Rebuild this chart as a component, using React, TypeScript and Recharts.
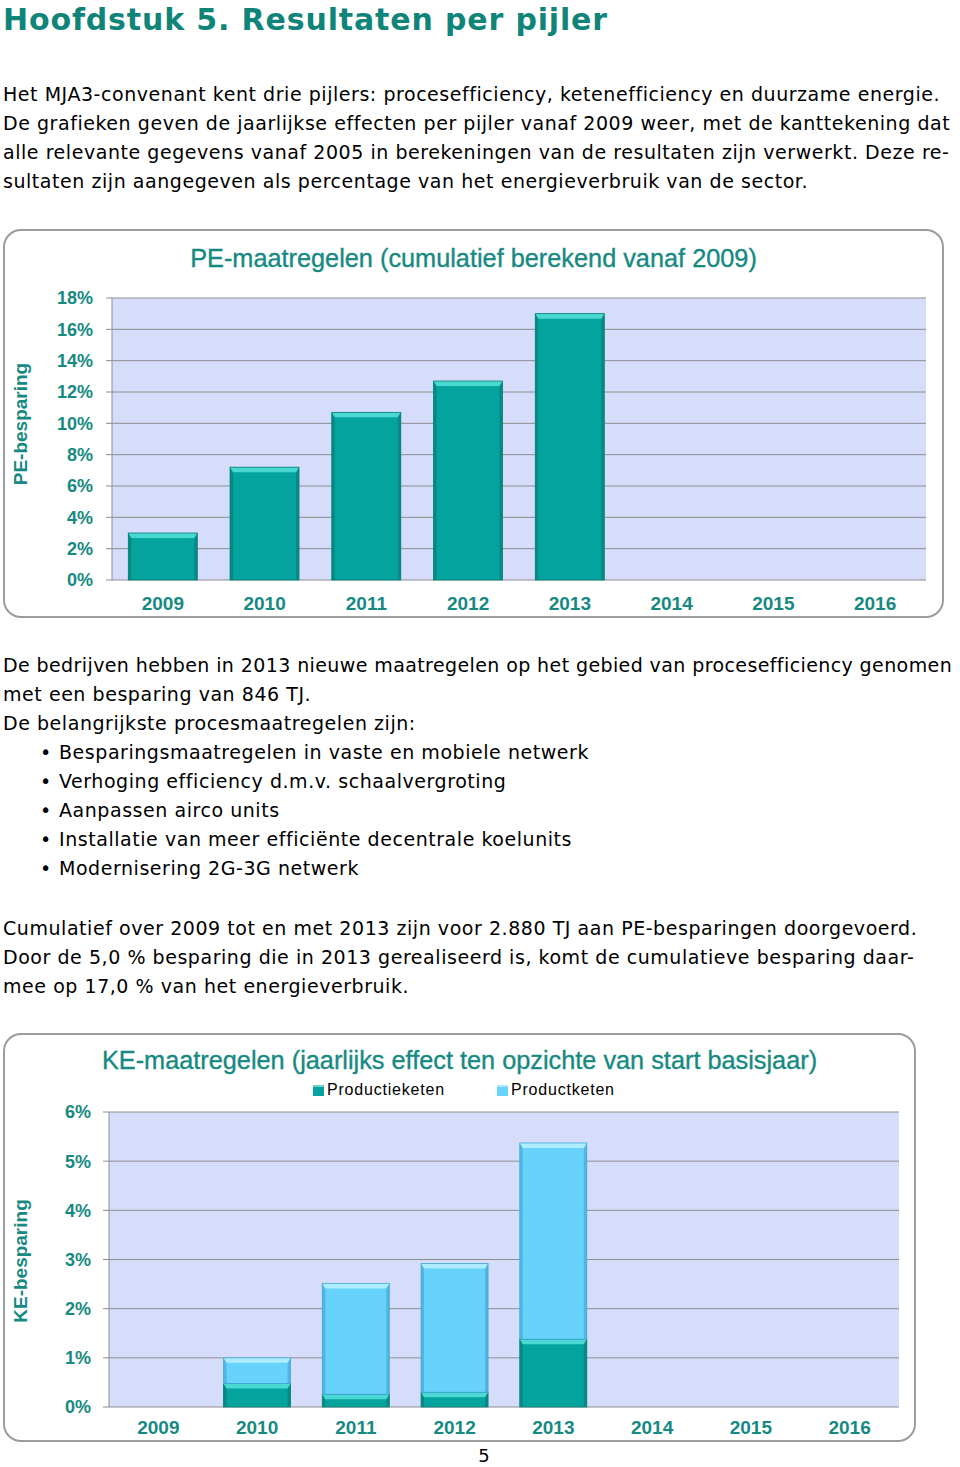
import React from 'react';
import { BarChart, Bar, XAxis, YAxis, CartesianGrid, Legend } from 'recharts';

// chart data
const years = ['2009', '2010', '2011', '2012', '2013', '2014', '2015', '2016'];
const peSavings = [3.0, 7.2, 10.7, 12.7, 17.0, null, null, null];
const peTicks = [0, 2, 4, 6, 8, 10, 12, 14, 16, 18];
const productieketen = [null, 0.48, 0.26, 0.3, 1.38, null, null, null];
const productketen = [null, 0.52, 2.25, 2.62, 3.99, null, null, null];
const keTicks = [0, 1, 2, 3, 4, 5, 6];
const edgeTicks = years.map((_, i) => i).concat(years.length);

const peData = years.map((year, i) => ({ year, pe: peSavings[i] }));
const keData = years.map((year, i) => ({ year, productie: productieketen[i], product: productketen[i] }));

const TEAL = '#168a82';
const HEAD = '#0f8479';
const GRID = '#8e8e8e';
const PLOT_BG = '#d6ddfb';
const CHART_FONT = '"Liberation Sans", Arial, sans-serif';
const TEXT_FONT = '"DejaVu Sans", Verdana, sans-serif';

const BevelBar = (props: any) => {
  const { x, y, width, height, fill, light, dark } = props;
  if (!height || height <= 0) return null;
  const b = Math.min(5, height / 2);
  const s = Math.min(3, width / 4);
  const r = x + width;
  const btm = y + height;
  return (
    <g>
      <rect x={x} y={y} width={width} height={height} fill={fill} />
      <polygon points={`${x},${y} ${x + s},${y + b} ${x + s},${btm} ${x},${btm}`} fill={dark} opacity={0.7} />
      <polygon points={`${r},${y} ${r - s},${y + b} ${r - s},${btm} ${r},${btm}`} fill={dark} opacity={0.7} />
      <polygon points={`${x},${y} ${r},${y} ${r - s},${y + b} ${x + s},${y + b}`} fill={light} />
      <rect x={x} y={y} width={width} height={height} fill="none" stroke={dark} strokeWidth={0.8} />
    </g>
  );
};

const tealBar = (p: any) => <BevelBar {...p} fill="#05a39d" light="#4ad8d2" dark="#077f7a" />;
const blueBar = (p: any) => <BevelBar {...p} fill="#67d3fc" light="#aeecff" dark="#45a9d6" />;

const renderKeLegend = (props: any) => (
  <div style={{ display: 'flex', fontFamily: CHART_FONT, fontSize: 16, letterSpacing: 0.8, color: '#000', lineHeight: '18px' }}>
    {(props.payload || []).map((entry: any, i: number) => (
      <div key={entry.value} style={{ display: 'flex', alignItems: 'center', marginRight: i === 0 ? 52 : 0 }}>
        <span style={{ display: 'inline-block', width: 11, height: 11, background: entry.color, marginRight: 3, boxShadow: 'inset 0 2px 0 rgba(255,255,255,0.45)' }} />
        <span>{entry.value}</span>
      </div>
    ))}
  </div>
);

const Line = ({ y, x = 3, children, style }: any) => (
  <div style={{ position: 'absolute', left: x, top: y - 14.5, height: 29, lineHeight: '29px', fontSize: 19, letterSpacing: 0.55, fontFamily: TEXT_FONT, color: '#000', whiteSpace: 'nowrap', ...style }}>
    {children}
  </div>
);

const Bullet = ({ y, children }: any) => (
  <>
    <Line y={y} x={40}>•</Line>
    <Line y={y} x={59}>{children}</Line>
  </>
);

const Frame = ({ left, top, width, height, children }: any) => (
  <div style={{ position: 'absolute', left, top, width, height, boxSizing: 'border-box', border: '2px solid #9c9c9c', borderRadius: 18, background: '#fff' }}>
    {children}
  </div>
);

const Title = ({ y, children }: any) => (
  <div style={{ position: 'absolute', left: 0, right: 0, top: y - 15, lineHeight: '30px', textAlign: 'center', fontFamily: CHART_FONT, fontSize: 25.3, color: TEAL, WebkitTextStroke: `0.35px ${TEAL}` }}>
    {children}
  </div>
);

const AxisLabel = ({ cx, cy, children }: any) => (
  <div style={{ position: 'absolute', left: cx - 100, top: cy - 12, width: 200, height: 24, lineHeight: '24px', textAlign: 'center', transform: 'rotate(-90deg)', fontFamily: CHART_FONT, fontWeight: 700, fontSize: 19, color: TEAL }}>
    {children}
  </div>
);

const yTick = { fill: TEAL, fontSize: 18, fontWeight: 700, fontFamily: CHART_FONT };
const xTick = { fill: TEAL, fontSize: 19, fontWeight: 700, fontFamily: CHART_FONT };

export default function App() {
  return (
    <div style={{ position: 'absolute', left: 0, top: 0, width: 960, height: 1467, background: '#fff', overflow: 'hidden' }}>
      <div style={{ position: 'absolute', left: 3, top: 4, lineHeight: '32px', fontSize: 30, letterSpacing: 0.85, fontWeight: 700, fontFamily: TEXT_FONT, color: HEAD, whiteSpace: 'nowrap' }}>
        Hoofdstuk 5. Resultaten per pijler
      </div>

      <Line y={94}>Het MJA3-convenant kent drie pijlers: procesefficiency, ketenefficiency en duurzame energie.</Line>
      <Line y={123}>De grafieken geven de jaarlijkse effecten per pijler vanaf 2009 weer, met de kanttekening dat</Line>
      <Line y={152}>alle relevante gegevens vanaf 2005 in berekeningen van de resultaten zijn verwerkt. Deze re-</Line>
      <Line y={181}>sultaten zijn aangegeven als percentage van het energieverbruik van de sector.</Line>

      {/* PE chart */}
      <Frame left={3} top={229} width={941} height={389}>
        <BarChart width={937} height={385} data={peData} barCategoryGap="16%" margin={{ top: 67, right: 16, left: 0, bottom: 0 }}>
          <CartesianGrid vertical={false} fill={PLOT_BG} fillOpacity={1} stroke={GRID} />
          <XAxis xAxisId="edges" type="number" domain={[0, years.length]} ticks={edgeTicks} tick={false} tickLine={{ stroke: GRID }} axisLine={{ stroke: GRID }} tickSize={6} height={0} allowDataOverflow />
          <XAxis dataKey="year" interval={0} tickLine={false} axisLine={false} tickSize={0} tickMargin={17} height={36} tick={xTick} />
          <YAxis domain={[0, 18]} ticks={peTicks} width={107} tickFormatter={(v) => `${v}%`} tick={yTick} tickLine={{ stroke: GRID }} axisLine={{ stroke: GRID }} tickSize={6} tickMargin={13} />
          <Bar dataKey="pe" name="PE-besparing" fill="#05a39d" shape={tealBar} isAnimationActive={false} />
        </BarChart>
        <div style={{ position: 'absolute', left: -2, top: -2, width: 941 }}>
          <Title y={29}>PE-maatregelen (cumulatief berekend vanaf 2009)</Title>
        </div>
        <AxisLabel cx={16} cy={193}>PE-besparing</AxisLabel>
      </Frame>

      <Line y={665} style={{ letterSpacing: 0.4 }}>De bedrijven hebben in 2013 nieuwe maatregelen op het gebied van procesefficiency genomen</Line>
      <Line y={694}>met een besparing van 846 TJ.</Line>
      <Line y={723}>De belangrijkste procesmaatregelen zijn:</Line>
      <Bullet y={752}>Besparingsmaatregelen in vaste en mobiele netwerk</Bullet>
      <Bullet y={781}>Verhoging efficiency d.m.v. schaalvergroting</Bullet>
      <Bullet y={810}>Aanpassen airco units</Bullet>
      <Bullet y={839}>Installatie van meer efficiënte decentrale koelunits</Bullet>
      <Bullet y={868}>Modernisering 2G-3G netwerk</Bullet>

      <Line y={928}>Cumulatief over 2009 tot en met 2013 zijn voor 2.880 TJ aan PE-besparingen doorgevoerd.</Line>
      <Line y={957}>Door de 5,0 % besparing die in 2013 gerealiseerd is, komt de cumulatieve besparing daar-</Line>
      <Line y={986}>mee op 17,0 % van het energieverbruik.</Line>

      {/* KE chart */}
      <Frame left={3} top={1033} width={913} height={409}>
        <BarChart width={909} height={405} data={keData} barCategoryGap="16%" margin={{ top: 77, right: 15, left: 0, bottom: 0 }}>
          <CartesianGrid vertical={false} fill={PLOT_BG} fillOpacity={1} stroke={GRID} />
          <XAxis xAxisId="edges" type="number" domain={[0, years.length]} ticks={edgeTicks} tick={false} tickLine={{ stroke: GRID }} axisLine={{ stroke: GRID }} tickSize={6} height={0} allowDataOverflow />
          <XAxis dataKey="year" interval={0} tickLine={false} axisLine={false} tickSize={0} tickMargin={14} height={33} tick={xTick} />
          <YAxis domain={[0, 6]} ticks={keTicks} width={104} tickFormatter={(v) => `${v}%`} tick={yTick} tickLine={{ stroke: GRID }} axisLine={{ stroke: GRID }} tickSize={6} tickMargin={12} />
          <Legend layout="horizontal" verticalAlign="middle" align="center" wrapperStyle={{ top: 46, left: 308, width: 340 }} content={renderKeLegend} />
          <Bar dataKey="productie" name="Productieketen" stackId="ke" fill="#05a39d" shape={tealBar} isAnimationActive={false} />
          <Bar dataKey="product" name="Productketen" stackId="ke" fill="#67d3fc" shape={blueBar} isAnimationActive={false} />
        </BarChart>
        <div style={{ position: 'absolute', left: -2, top: -2, width: 913 }}>
          <Title y={27}>KE-maatregelen (jaarlijks effect ten opzichte van start basisjaar)</Title>
        </div>
        <AxisLabel cx={16} cy={226}>KE-besparing</AxisLabel>
      </Frame>

      <div style={{ position: 'absolute', left: 0, width: 968, top: 1446, height: 20, lineHeight: '20px', textAlign: 'center', fontFamily: TEXT_FONT, fontSize: 18, color: '#000' }}>5</div>
    </div>
  );
}
